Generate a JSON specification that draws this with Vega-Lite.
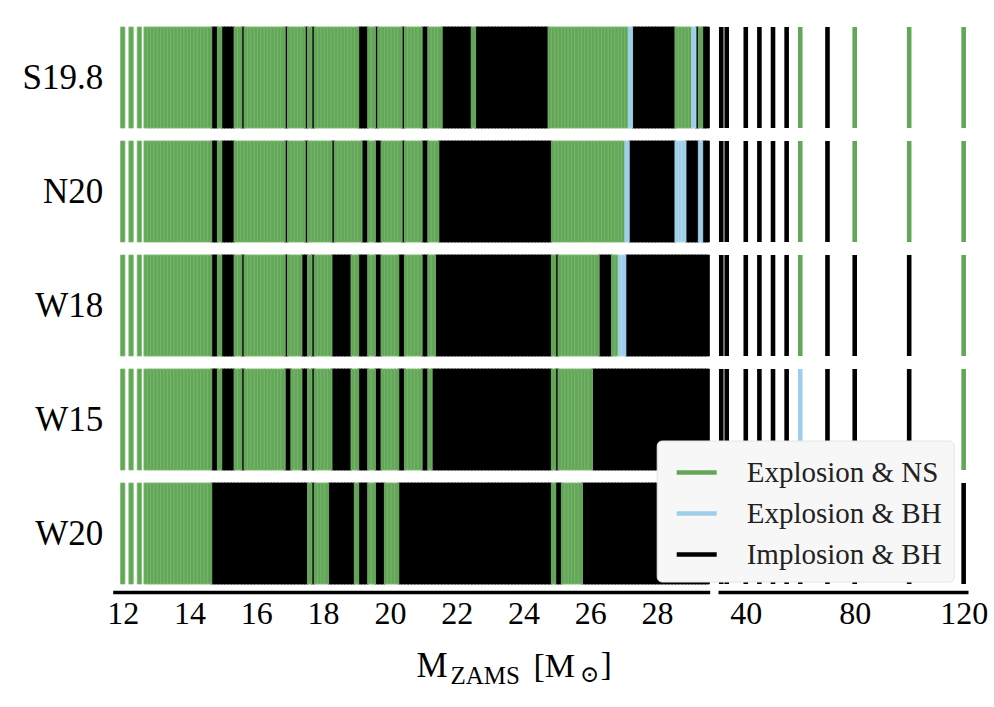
{
"$schema": "https://vega.github.io/schema/vega-lite/v6.json",
"width": 855.3, "height": 570,
"autosize": {"type": "none"},
"padding": {"left": 112.7, "top": 20.5, "right": 26, "bottom": 116.5},
"background": "white",
"config": {"view": {"stroke": null}, "font": "Liberation Serif"},
"title": {"text": "⊙", "orient": "top", "anchor": "start", "frame": "group", "offset": 0, "dx": 467.3, "dy": 684, "baseline": "alphabetic", "font": "DejaVu Serif", "fontSize": 23, "fontWeight": "normal", "color": "#000000"},
"datasets": {
"engines": [{"k":"a","engine":"S19.8"},{"k":"b","engine":"N20"},{"k":"c","engine":"W18"},{"k":"d","engine":"W15"},{"k":"e","engine":"W20"}],
"outcomes": [{"o":"N","outcome":"Explosion & NS"},{"o":"X","outcome":"Explosion & BH"},{"o":"I","outcome":"Implosion & BH"}],
"rows": [
{"m":12.0,"a":"N","b":"N","c":"N","d":"N","e":"N"},
{"m":12.25,"a":"N","b":"N","c":"N","d":"N","e":"N"},
{"m":12.5,"a":"N","b":"N","c":"N","d":"N","e":"N"},
{"m":12.7,"a":"N","b":"N","c":"N","d":"N","e":"N"},
{"m":12.8,"a":"N","b":"N","c":"N","d":"N","e":"N"},
{"m":12.9,"a":"N","b":"N","c":"N","d":"N","e":"N"},
{"m":13.0,"a":"N","b":"N","c":"N","d":"N","e":"N"},
{"m":13.1,"a":"N","b":"N","c":"N","d":"N","e":"N"},
{"m":13.2,"a":"N","b":"N","c":"N","d":"N","e":"N"},
{"m":13.3,"a":"N","b":"N","c":"N","d":"N","e":"N"},
{"m":13.4,"a":"N","b":"N","c":"N","d":"N","e":"N"},
{"m":13.5,"a":"N","b":"N","c":"N","d":"N","e":"N"},
{"m":13.6,"a":"N","b":"N","c":"N","d":"N","e":"N"},
{"m":13.7,"a":"N","b":"N","c":"N","d":"N","e":"N"},
{"m":13.8,"a":"N","b":"N","c":"N","d":"N","e":"N"},
{"m":13.9,"a":"N","b":"N","c":"N","d":"N","e":"N"},
{"m":14.0,"a":"N","b":"N","c":"N","d":"N","e":"N"},
{"m":14.1,"a":"N","b":"N","c":"N","d":"N","e":"N"},
{"m":14.2,"a":"N","b":"N","c":"N","d":"N","e":"N"},
{"m":14.3,"a":"N","b":"N","c":"N","d":"N","e":"N"},
{"m":14.4,"a":"N","b":"N","c":"N","d":"N","e":"N"},
{"m":14.5,"a":"N","b":"N","c":"N","d":"N","e":"N"},
{"m":14.6,"a":"N","b":"N","c":"N","d":"N","e":"N"},
{"m":14.7,"a":"I","b":"I","c":"I","d":"I","e":"I"},
{"m":14.8,"a":"I","b":"I","c":"I","d":"I","e":"I"},
{"m":14.9,"a":"N","b":"N","c":"N","d":"N","e":"I"},
{"m":15.0,"a":"I","b":"I","c":"I","d":"I","e":"I"},
{"m":15.1,"a":"I","b":"I","c":"I","d":"I","e":"I"},
{"m":15.2,"a":"I","b":"I","c":"I","d":"I","e":"I"},
{"m":15.3,"a":"I","b":"I","c":"I","d":"I","e":"I"},
{"m":15.4,"a":"N","b":"N","c":"N","d":"N","e":"I"},
{"m":15.5,"a":"N","b":"N","c":"N","d":"N","e":"I"},
{"m":15.6,"a":"I","b":"N","c":"I","d":"I","e":"I"},
{"m":15.7,"a":"N","b":"N","c":"N","d":"N","e":"I"},
{"m":15.8,"a":"N","b":"N","c":"N","d":"N","e":"I"},
{"m":15.9,"a":"N","b":"N","c":"N","d":"N","e":"I"},
{"m":16.0,"a":"N","b":"N","c":"N","d":"N","e":"I"},
{"m":16.1,"a":"N","b":"N","c":"N","d":"N","e":"I"},
{"m":16.2,"a":"N","b":"N","c":"N","d":"N","e":"I"},
{"m":16.3,"a":"N","b":"N","c":"N","d":"N","e":"I"},
{"m":16.4,"a":"N","b":"N","c":"N","d":"N","e":"I"},
{"m":16.5,"a":"N","b":"N","c":"N","d":"N","e":"I"},
{"m":16.6,"a":"N","b":"N","c":"N","d":"N","e":"I"},
{"m":16.7,"a":"N","b":"N","c":"N","d":"N","e":"I"},
{"m":16.8,"a":"N","b":"N","c":"N","d":"N","e":"I"},
{"m":16.9,"a":"I","b":"I","c":"I","d":"I","e":"I"},
{"m":17.0,"a":"N","b":"N","c":"N","d":"I","e":"I"},
{"m":17.1,"a":"N","b":"N","c":"N","d":"N","e":"I"},
{"m":17.2,"a":"N","b":"N","c":"N","d":"N","e":"I"},
{"m":17.3,"a":"N","b":"N","c":"N","d":"N","e":"I"},
{"m":17.4,"a":"N","b":"N","c":"I","d":"I","e":"I"},
{"m":17.5,"a":"I","b":"I","c":"I","d":"I","e":"I"},
{"m":17.6,"a":"N","b":"N","c":"N","d":"N","e":"N"},
{"m":17.7,"a":"I","b":"N","c":"I","d":"I","e":"I"},
{"m":17.8,"a":"N","b":"N","c":"N","d":"N","e":"N"},
{"m":17.9,"a":"N","b":"N","c":"N","d":"N","e":"N"},
{"m":18.0,"a":"N","b":"N","c":"N","d":"N","e":"N"},
{"m":18.1,"a":"N","b":"N","c":"N","d":"N","e":"N"},
{"m":18.2,"a":"N","b":"N","c":"N","d":"N","e":"I"},
{"m":18.3,"a":"N","b":"I","c":"I","d":"I","e":"I"},
{"m":18.4,"a":"N","b":"N","c":"I","d":"I","e":"I"},
{"m":18.5,"a":"N","b":"N","c":"I","d":"I","e":"I"},
{"m":18.6,"a":"N","b":"N","c":"I","d":"I","e":"I"},
{"m":18.7,"a":"N","b":"N","c":"I","d":"I","e":"I"},
{"m":18.8,"a":"N","b":"N","c":"I","d":"I","e":"I"},
{"m":18.9,"a":"N","b":"N","c":"N","d":"N","e":"I"},
{"m":19.0,"a":"N","b":"N","c":"N","d":"N","e":"N"},
{"m":19.1,"a":"I","b":"N","c":"I","d":"I","e":"I"},
{"m":19.2,"a":"I","b":"I","c":"I","d":"I","e":"I"},
{"m":19.3,"a":"I","b":"I","c":"I","d":"I","e":"I"},
{"m":19.4,"a":"N","b":"N","c":"N","d":"N","e":"N"},
{"m":19.5,"a":"N","b":"N","c":"N","d":"N","e":"N"},
{"m":19.6,"a":"I","b":"I","c":"I","d":"I","e":"I"},
{"m":19.7,"a":"N","b":"I","c":"I","d":"I","e":"I"},
{"m":19.8,"a":"N","b":"N","c":"N","d":"N","e":"I"},
{"m":19.9,"a":"N","b":"N","c":"N","d":"N","e":"N"},
{"m":20.0,"a":"N","b":"N","c":"N","d":"N","e":"N"},
{"m":20.1,"a":"N","b":"N","c":"N","d":"N","e":"N"},
{"m":20.2,"a":"N","b":"N","c":"N","d":"N","e":"N"},
{"m":20.3,"a":"N","b":"N","c":"I","d":"I","e":"I"},
{"m":20.4,"a":"I","b":"I","c":"I","d":"I","e":"I"},
{"m":20.5,"a":"N","b":"N","c":"N","d":"N","e":"I"},
{"m":20.6,"a":"N","b":"N","c":"N","d":"N","e":"I"},
{"m":20.7,"a":"N","b":"N","c":"N","d":"N","e":"I"},
{"m":20.8,"a":"N","b":"N","c":"N","d":"N","e":"I"},
{"m":20.9,"a":"N","b":"N","c":"N","d":"N","e":"I"},
{"m":21.0,"a":"I","b":"I","c":"I","d":"I","e":"I"},
{"m":21.1,"a":"I","b":"I","c":"I","d":"I","e":"I"},
{"m":21.2,"a":"N","b":"N","c":"N","d":"N","e":"I"},
{"m":21.3,"a":"N","b":"N","c":"N","d":"I","e":"I"},
{"m":21.4,"a":"N","b":"N","c":"I","d":"I","e":"I"},
{"m":21.5,"a":"N","b":"I","c":"I","d":"I","e":"I"},
{"m":21.6,"a":"I","b":"I","c":"I","d":"I","e":"I"},
{"m":21.7,"a":"I","b":"I","c":"I","d":"I","e":"I"},
{"m":21.8,"a":"I","b":"I","c":"I","d":"I","e":"I"},
{"m":21.9,"a":"I","b":"I","c":"I","d":"I","e":"I"},
{"m":22.0,"a":"I","b":"I","c":"I","d":"I","e":"I"},
{"m":22.1,"a":"I","b":"I","c":"I","d":"I","e":"I"},
{"m":22.2,"a":"I","b":"I","c":"I","d":"I","e":"I"},
{"m":22.3,"a":"I","b":"I","c":"I","d":"I","e":"I"},
{"m":22.4,"a":"I","b":"I","c":"I","d":"I","e":"I"},
{"m":22.5,"a":"N","b":"I","c":"I","d":"I","e":"I"},
{"m":22.6,"a":"I","b":"I","c":"I","d":"I","e":"I"},
{"m":22.7,"a":"I","b":"I","c":"I","d":"I","e":"I"},
{"m":22.8,"a":"I","b":"I","c":"I","d":"I","e":"I"},
{"m":22.9,"a":"I","b":"I","c":"I","d":"I","e":"I"},
{"m":23.0,"a":"I","b":"I","c":"I","d":"I","e":"I"},
{"m":23.1,"a":"I","b":"I","c":"I","d":"I","e":"I"},
{"m":23.2,"a":"I","b":"I","c":"I","d":"I","e":"I"},
{"m":23.3,"a":"I","b":"I","c":"I","d":"I","e":"I"},
{"m":23.4,"a":"I","b":"I","c":"I","d":"I","e":"I"},
{"m":23.5,"a":"I","b":"I","c":"I","d":"I","e":"I"},
{"m":23.6,"a":"I","b":"I","c":"I","d":"I","e":"I"},
{"m":23.7,"a":"I","b":"I","c":"I","d":"I","e":"I"},
{"m":23.8,"a":"I","b":"I","c":"I","d":"I","e":"I"},
{"m":23.9,"a":"I","b":"I","c":"I","d":"I","e":"I"},
{"m":24.0,"a":"I","b":"I","c":"I","d":"I","e":"I"},
{"m":24.1,"a":"I","b":"I","c":"I","d":"I","e":"I"},
{"m":24.2,"a":"I","b":"I","c":"I","d":"I","e":"I"},
{"m":24.3,"a":"I","b":"I","c":"I","d":"I","e":"I"},
{"m":24.4,"a":"I","b":"I","c":"I","d":"I","e":"I"},
{"m":24.5,"a":"I","b":"I","c":"I","d":"I","e":"I"},
{"m":24.6,"a":"I","b":"I","c":"I","d":"I","e":"I"},
{"m":24.7,"a":"I","b":"I","c":"I","d":"I","e":"I"},
{"m":24.8,"a":"N","b":"I","c":"I","d":"I","e":"I"},
{"m":24.9,"a":"N","b":"N","c":"N","d":"N","e":"N"},
{"m":25.0,"a":"N","b":"N","c":"I","d":"I","e":"I"},
{"m":25.1,"a":"N","b":"N","c":"N","d":"N","e":"I"},
{"m":25.2,"a":"N","b":"N","c":"N","d":"N","e":"N"},
{"m":25.3,"a":"N","b":"N","c":"N","d":"N","e":"N"},
{"m":25.4,"a":"N","b":"N","c":"N","d":"N","e":"N"},
{"m":25.5,"a":"N","b":"N","c":"N","d":"N","e":"N"},
{"m":25.6,"a":"N","b":"N","c":"N","d":"N","e":"N"},
{"m":25.7,"a":"N","b":"N","c":"N","d":"N","e":"N"},
{"m":25.8,"a":"N","b":"N","c":"N","d":"N","e":"I"},
{"m":25.9,"a":"N","b":"N","c":"N","d":"N","e":"I"},
{"m":26.0,"a":"N","b":"N","c":"N","d":"N","e":"I"},
{"m":26.1,"a":"N","b":"N","c":"N","d":"I","e":"I"},
{"m":26.2,"a":"N","b":"N","c":"N","d":"I","e":"I"},
{"m":26.3,"a":"N","b":"N","c":"I","d":"I","e":"I"},
{"m":26.4,"a":"N","b":"N","c":"I","d":"I","e":"I"},
{"m":26.5,"a":"N","b":"N","c":"I","d":"I","e":"I"},
{"m":26.6,"a":"N","b":"N","c":"I","d":"I","e":"I"},
{"m":26.7,"a":"N","b":"N","c":"N","d":"I","e":"I"},
{"m":26.8,"a":"N","b":"N","c":"N","d":"I","e":"I"},
{"m":26.9,"a":"N","b":"N","c":"X","d":"I","e":"I"},
{"m":27.0,"a":"N","b":"N","c":"X","d":"I","e":"I"},
{"m":27.1,"a":"N","b":"X","c":"I","d":"I","e":"I"},
{"m":27.2,"a":"X","b":"I","c":"I","d":"I","e":"I"},
{"m":27.3,"a":"I","b":"I","c":"I","d":"I","e":"I"},
{"m":27.4,"a":"I","b":"I","c":"I","d":"I","e":"I"},
{"m":27.5,"a":"I","b":"I","c":"I","d":"I","e":"I"},
{"m":27.6,"a":"I","b":"I","c":"I","d":"I","e":"I"},
{"m":27.7,"a":"I","b":"I","c":"I","d":"I","e":"I"},
{"m":27.8,"a":"I","b":"I","c":"I","d":"I","e":"I"},
{"m":27.9,"a":"I","b":"I","c":"I","d":"I","e":"I"},
{"m":28.0,"a":"I","b":"I","c":"I","d":"I","e":"I"},
{"m":28.1,"a":"I","b":"I","c":"I","d":"I","e":"I"},
{"m":28.2,"a":"I","b":"I","c":"I","d":"I","e":"I"},
{"m":28.3,"a":"I","b":"I","c":"I","d":"I","e":"I"},
{"m":28.4,"a":"I","b":"I","c":"I","d":"I","e":"I"},
{"m":28.5,"a":"I","b":"I","c":"I","d":"I","e":"I"},
{"m":28.6,"a":"N","b":"X","c":"I","d":"I","e":"I"},
{"m":28.7,"a":"N","b":"X","c":"I","d":"I","e":"I"},
{"m":28.8,"a":"N","b":"X","c":"I","d":"I","e":"I"},
{"m":28.9,"a":"N","b":"I","c":"I","d":"I","e":"I"},
{"m":29.0,"a":"N","b":"I","c":"I","d":"I","e":"I"},
{"m":29.1,"a":"X","b":"I","c":"I","d":"I","e":"I"},
{"m":29.2,"a":"I","b":"I","c":"I","d":"I","e":"I"},
{"m":29.3,"a":"N","b":"X","c":"I","d":"I","e":"I"},
{"m":29.4,"a":"I","b":"I","c":"I","d":"I","e":"I"},
{"m":29.5,"a":"I","b":"I","c":"I","d":"I","e":"I"},
{"m":31,"a":"I","b":"I","c":"I","d":"I","e":"I"},
{"m":33,"a":"I","b":"I","c":"I","d":"I","e":"I"},
{"m":40,"a":"I","b":"I","c":"I","d":"I","e":"I"},
{"m":45,"a":"I","b":"I","c":"I","d":"I","e":"I"},
{"m":50,"a":"I","b":"I","c":"I","d":"I","e":"I"},
{"m":55,"a":"I","b":"I","c":"I","d":"I","e":"I"},
{"m":60,"a":"N","b":"N","c":"N","d":"X","e":"I"},
{"m":70,"a":"I","b":"I","c":"I","d":"I","e":"I"},
{"m":80,"a":"N","b":"N","c":"I","d":"I","e":"I"},
{"m":100,"a":"N","b":"N","c":"I","d":"I","e":"I"},
{"m":120,"a":"N","b":"N","c":"N","d":"N","e":"I"}
]
},
"data": {"name": "rows"},
"transform": [
{"fold": ["a","b","c","d","e"], "as": ["k","o"]},
{"lookup": "k", "from": {"data": {"name": "engines"}, "key": "k", "fields": ["engine"]}},
{"lookup": "o", "from": {"data": {"name": "outcomes"}, "key": "o", "fields": ["outcome"]}}
],
"layer": [
{
"transform": [{"filter": "datum.m < 30"}],
"mark": {"type": "tick", "size": 101, "thickness": 4.4, "opacity": 1, "strokeWidth": 0.8},
"encoding": {
"x": {"field": "m", "type": "quantitative",
"scale": {"domain": [11.7, 29.575], "range": [0, 597], "nice": false, "zero": false},
"axis": {"orient": "bottom", "values": [12,14,16,18,20,22,24,26,28], "format": "d", "grid": false, "ticks": false, "tickSize": 0,
"domain": true, "domainColor": "#000000", "domainWidth": 3.3, "offset": 1.5,
"labelFont": "Liberation Serif", "labelFontSize": 32, "labelColor": "#000000", "labelPadding": 6.5, "labelFlush": false, "labelOverlap": false,
"title": "M", "titleFont": "Liberation Serif", "titleFontSize": 35, "titleFontWeight": "normal", "titleColor": "#000000",
"titleX": 303.3, "titleY": 84, "titleAlign": "left", "titleBaseline": "alphabetic"}},
"y": {"field": "engine", "type": "nominal", "sort": ["S19.8","N20","W18","W15","W20"],
"scale": {"type": "band", "paddingInner": 0, "paddingOuter": 0},
"axis": {"orient": "left", "ticks": false, "domain": false, "grid": false,
"labelFont": "Liberation Serif", "labelFontSize": 35, "labelColor": "#000000", "labelPadding": 10,
"title": "[M", "titleAngle": 0, "titleX": 420.3, "titleY": 655.5, "titleAlign": "left", "titleBaseline": "alphabetic",
"titleFont": "Liberation Serif", "titleFontSize": 34, "titleFontWeight": "normal", "titleColor": "#000000"}},
"color": {"field": "outcome", "type": "nominal",
"scale": {"domain": ["Explosion & NS","Explosion & BH","Implosion & BH"], "range": ["#64a659","#9dcfea","#000000"]},
"legend": {"title": null, "orient": "none", "legendX": 544, "legendY": 420, "direction": "vertical",
"symbolType": "M-1,-0.11H1V0.11H-1Z", "symbolSize": 1600, "symbolStrokeWidth": 0, "symbolOpacity": 1, "symbolOffset": 8,
"labelFont": "Liberation Serif", "labelFontSize": 29, "labelColor": "#222222", "labelOffset": 30, "labelLimit": 400,
"padding": 12, "rowPadding": 6, "fillColor": "#f7f7f7", "strokeColor": "#e4e4e4", "cornerRadius": 5}},
"stroke": {"field": "outcome", "type": "nominal",
"scale": {"domain": ["Explosion & NS","Explosion & BH","Implosion & BH"], "range": ["#7cbb70","#b2daee","#000000"]},
"legend": null},
"order": {"field": "o", "sort": "ascending"}
}
},
{
"transform": [{"filter": "datum.m > 30"}],
"mark": {"type": "tick", "size": 101, "thickness": 4.6, "opacity": 1},
"encoding": {
"x": {"field": "m", "type": "quantitative",
"scale": {"domain": [29.8, 121.6], "range": [605.3, 855.3], "nice": false, "zero": false},
"axis": {"orient": "bottom", "values": [40,80,120], "format": "d", "grid": false, "ticks": false, "tickSize": 0,
"domain": true, "domainColor": "#000000", "domainWidth": 3.3, "offset": 1.5,
"labelFont": "Liberation Serif", "labelFontSize": 32, "labelColor": "#000000", "labelPadding": 6.5, "labelFlush": false, "labelOverlap": false,
"title": "ZAMS", "titleFont": "Liberation Serif", "titleFontSize": 25, "titleFontWeight": "normal", "titleColor": "#000000",
"titleX": 337.3, "titleY": 91, "titleAlign": "left", "titleBaseline": "alphabetic"}},
"y": {"field": "engine", "type": "nominal", "sort": ["S19.8","N20","W18","W15","W20"]},
"color": {"field": "outcome", "type": "nominal"},
"order": {"field": "o", "sort": "ascending"}
}
},
{
"transform": [{"filter": "datum.m > 1000"}],
"mark": {"type": "tick", "opacity": 0},
"encoding": {
"x": {"field": "m", "type": "quantitative",
"scale": {"domain": [0, 1], "range": [0, 1], "nice": false, "zero": false},
"axis": {"orient": "bottom", "labels": false, "ticks": false, "domain": false, "grid": false,
"title": "]", "titleFont": "Liberation Serif", "titleFontSize": 34, "titleFontWeight": "normal", "titleColor": "#000000",
"titleX": 487.3, "titleY": 84, "titleAlign": "left", "titleBaseline": "alphabetic"}},
"y": {"field": "engine", "type": "nominal", "sort": ["S19.8","N20","W18","W15","W20"]}
}
}
],
"resolve": {"scale": {"x": "independent"}, "axis": {"x": "independent"}}
}
